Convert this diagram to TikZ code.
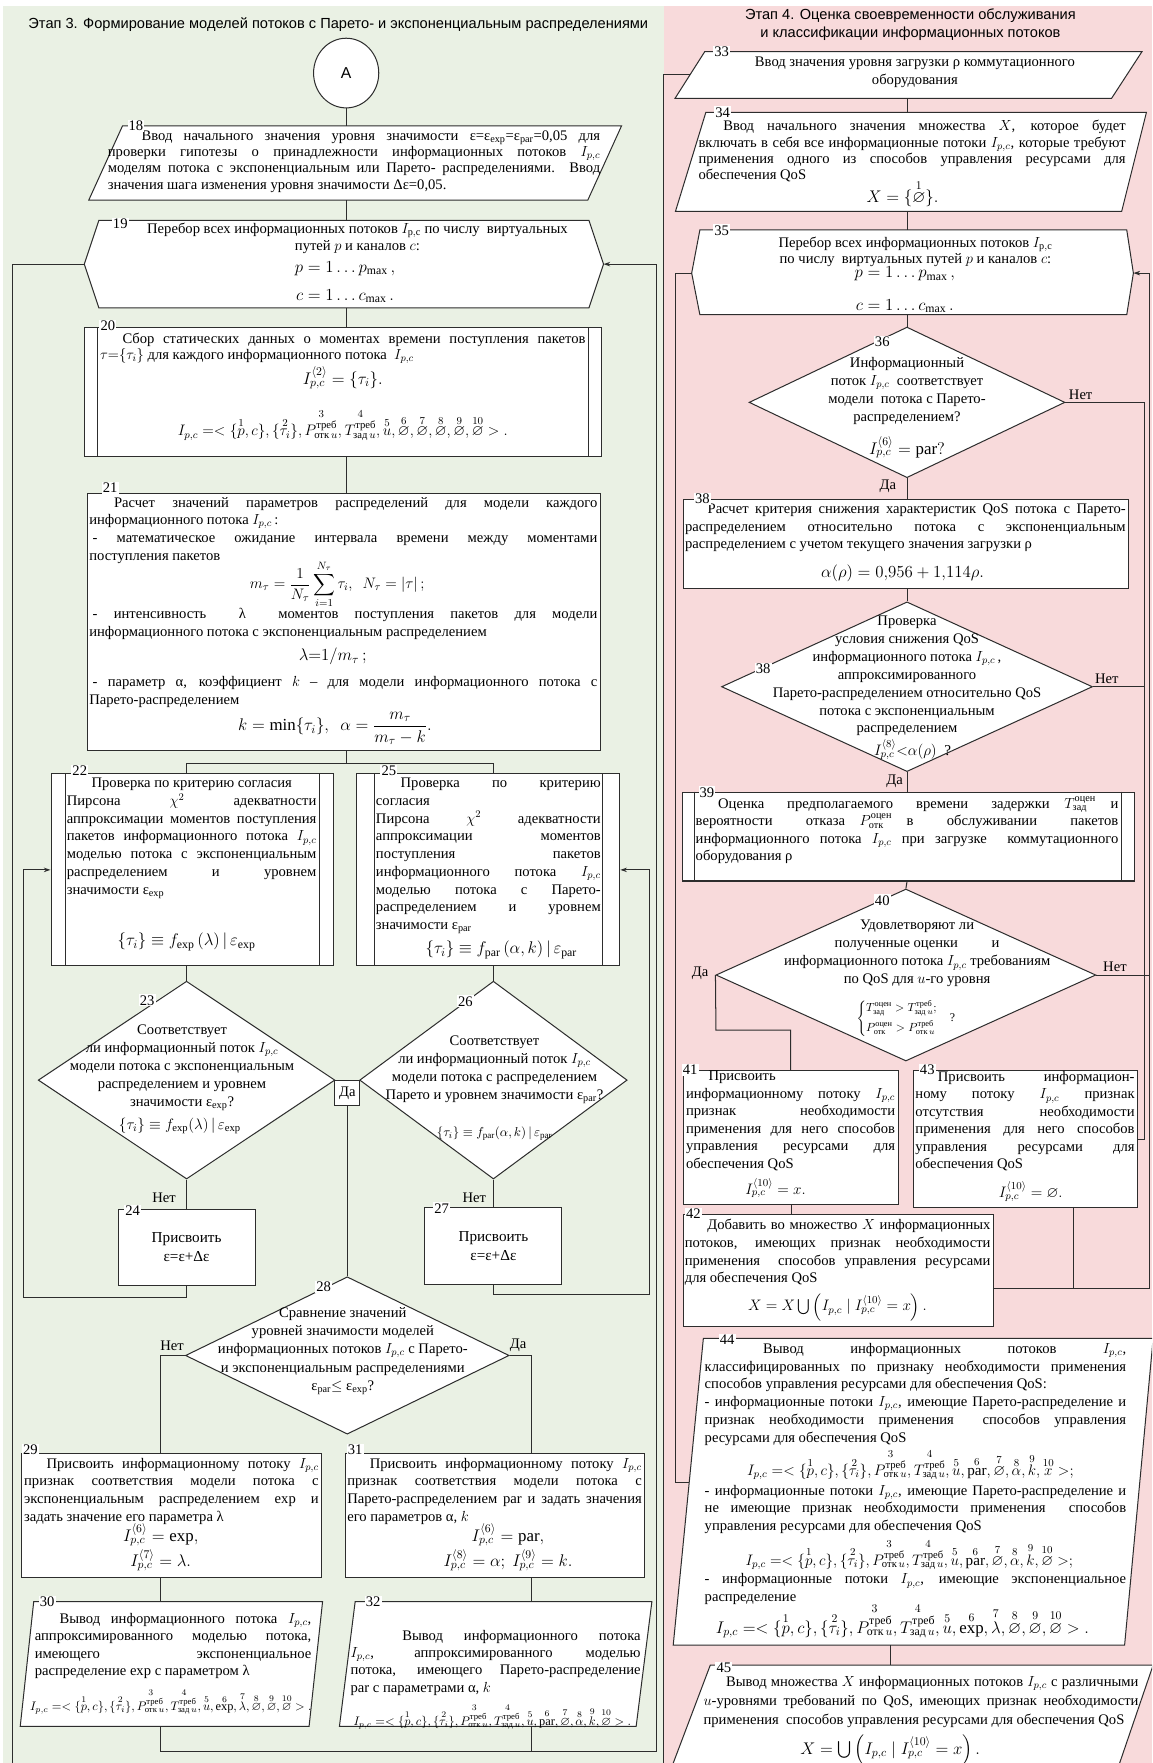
\documentclass[tikz,border=0pt]{standalone}
\usepackage{fix-cm}
\usepackage{amsmath}
\usepackage{amssymb}
\usepackage{fontspec}
\setmainfont{Liberation Serif}
\newfontfamily\headfont{Liberation Sans}
\usepackage{tikz}
\usetikzlibrary{arrows.meta, positioning, calc, shapes.geometric}
\definecolor{bggreen}{RGB}{234,241,228}
\definecolor{bgpink}{RGB}{248,218,219}
\definecolor{linecol}{RGB}{45,45,45}
\tikzset{>=Stealth}
\setlength{\parindent}{0pt}
\tolerance=9999
\hbadness=10000
\hfuzz=30pt

\newcommand{\fs}{\fontsize{13}{15.8}\selectfont}
\newcommand{\Ipc}{\ensuremath{I_{p,c}}}
\newcommand{\tpl}[1]{I_{p,c} =<\{\overset{1}{p},c\},\{\overset{2}{\tau_i}\},\overset{3}{P^{\text{треб}}_{\text{отк}\,u}},\overset{4}{T^{\text{треб}}_{\text{зад}\,u}},\overset{5}{u},#1>}

\begin{document}
\begin{tikzpicture}[x=1pt, y=-1pt,
  blk/.style={draw=linecol, fill=white, line width=0.9pt, inner sep=0pt},
  dia/.style={diamond, draw=linecol, fill=white, line width=0.9pt, inner sep=0pt},
  con/.style={draw=linecol, line width=0.9pt},
  arr/.style={con, -{Stealth[length=6pt, width=4pt]}},
  txt/.style={inner sep=0pt, font=\fs, align=justify},
  ctxt/.style={inner sep=0pt, font=\fs, align=center},
  bskip/.style={font={\fontsize{13}{#1}\selectfont}},
  frm/.style={inner sep=0pt, align=center, font=\fontsize{15}{18}\selectfont},
  mfrm/.style={inner sep=0pt, align=center, font=\fontsize{13.5}{16}\selectfont},
  sfrm/.style={inner sep=0pt, align=center, font=\fontsize{10.5}{12}\selectfont},
  num/.style={fill=white, inner sep=1pt, font=\fs},
  lbl/.style={inner sep=1pt, font=\fs},
  head/.style={font=\headfont\fontsize{13}{15.5}\selectfont, align=center},
]

% Rahmen und Hintergrund
\useasboundingbox (0,0) rectangle (1025,1568.6);
\clip (0,0) rectangle (1025,1568.6);
\fill[white] (0,0) rectangle (1025,1568.6);
\fill[bggreen] (3,5) rectangle (591,1568.6);
\fill[bgpink] (591,5) rectangle (1025,1568.6);

% Ueberschriften der Etappen
\node[head] (ttl3) at (301,22) {Этап 3. Формирование моделей потоков с Парето- и экспоненциальным распределениями};
\node[head] (ttl4) at (810,22) {Этап 4. Оценка своевременности обслуживания\\и классификации информационных потоков};

% ===== Etappe 3 =====

% Anschluss A
\node[blk, ellipse, minimum width=58pt, minimum height=62pt, font=\headfont\fontsize{14}{16}\selectfont] (A) at (308,65) {A};

% 18: Eingabe
\draw[blk] (109,112) -- (553,112) -- (523,178) -- (79,178) -- cycle;
\coordinate (b18n) at (308,112);
\coordinate (b18s) at (308,178);
\node[txt, bskip=14.5, text width=438pt, anchor=north] (t18) at (315,116) {\hspace*{30pt}Ввод начального значения уровня значимости ε=ε\textsubscript{exp}=ε\textsubscript{par}=0,05 для\linebreak проверки гипотезы о принадлежности информационных потоков \Ipc\linebreak моделям потока с экспоненциальным или Парето- распределениями. Ввод\linebreak значения шага изменения уровня значимости Δε=0,05.};

% 19: Schleife
\draw[blk] (88,196) -- (524,196) -- (537,235) -- (524,274) -- (88,274) -- (75,235) -- cycle;
\coordinate (b19n) at (308,196);
\coordinate (b19s) at (308,274);
\coordinate (b19w) at (75,235);
\coordinate (b19e) at (537,235);
\node[ctxt, anchor=north] (t19) at (318,198) {Перебор всех информационных потоков $I_{\mathrm{p,c}}$ по числу\ \ виртуальных\\путей $p$ и каналов $c$:};
\node[frm] (f19) at (307,251) {$p=1\ldots p_{\max}\,,$\\[7pt]$c=1\ldots c_{\max}\,.$};

% 20
\node[blk, minimum width=460pt, minimum height=115pt, anchor=north west] (b20) at (75,291) {};
\draw[con] ([xshift=12pt]b20.north west) -- ([xshift=12pt]b20.south west);
\draw[con] ([xshift=-12pt]b20.north east) -- ([xshift=-12pt]b20.south east);
\node[txt, bskip=13.5, text width=432pt, anchor=north] (t20) at (305,296.5) {\hspace*{20pt}Сбор статических данных о моментах времени поступления пакетов\linebreak $\tau{=}\{\tau_i\}$ для каждого информационного потока\ \ \Ipc};
\node[frm] (f20a) at (305,336) {$I^{\langle 2\rangle}_{p,c}=\{\tau_i\}.$};
\node[mfrm] (f20b) at (305,378) {$\tpl{\overset{6}{\varnothing},\overset{7}{\varnothing},\overset{8}{\varnothing},\overset{9}{\varnothing},\overset{10}{\varnothing}}.$};

% 21
\node[blk, minimum width=457pt, minimum height=228pt, anchor=north west] (b21) at (77,439) {};
\node[txt, text width=452pt, anchor=north] (t21a) at (305.5,442) {\hspace*{22pt}Расчет значений параметров распределений для модели каждого\linebreak информационного потока \Ipc\,:\par\hspace*{3pt}- математическое ожидание интервала времени между моментами\linebreak поступления пакетов};
\node[mfrm] (f21a) at (300,520) {$m_\tau=\dfrac{1}{N_\tau}\displaystyle\sum_{i=1}^{N_\tau}\tau_i,\ \ N_\tau=\left|\tau\right|;$};
\node[txt, text width=452pt, anchor=north] (t21b) at (305.5,541) {\hspace*{3pt}- интенсивность\ \ λ\ \ моментов поступления пакетов для модели\linebreak информационного потока с экспоненциальным распределением};
\node[frm] (f21b) at (296,584) {$\lambda{=}1/m_\tau\,;$};
\node[txt, text width=452pt, anchor=north] (t21c) at (305.5,602) {\hspace*{3pt}- параметр α, коэффициент $k$ – для модели информационного потока с\linebreak Парето-распределением};
\node[frm] (f21c) at (298,648) {$k=\min\{\tau_i\},\ \ \alpha=\dfrac{m_\tau}{m_\tau-k}.$};

% 22
\node[blk, minimum width=251pt, minimum height=171pt, anchor=north west] (b22) at (45,688) {};
\draw[con] ([xshift=13pt]b22.north west) -- ([xshift=13pt]b22.south west);
\draw[con] ([xshift=-13pt]b22.north east) -- ([xshift=-13pt]b22.south east);
\node[txt, text width=222pt, anchor=north] (t22) at (170.5,692) {\hspace*{22pt}Проверка по критерию согласия\par Пирсона $\chi^2$ адекватности\linebreak аппроксимации моментов поступления\linebreak пакетов информационного потока \Ipc\linebreak моделью потока с экспоненциальным\linebreak распределением и уровнем\linebreak значимости ε\textsubscript{exp}};
\node[frm] (f22) at (166,838) {$\{\tau_i\}\equiv f_{\exp}\left(\lambda\right)|\,\varepsilon_{\exp}$};

% 25
\node[blk, minimum width=234pt, minimum height=171pt, anchor=north west] (b25) at (317,688) {};
\draw[con] ([xshift=16pt]b25.north west) -- ([xshift=16pt]b25.south west);
\draw[con] ([xshift=-16pt]b25.north east) -- ([xshift=-16pt]b25.south east);
\node[txt, text width=200pt, anchor=north] (t25) at (434.5,692) {\hspace*{22pt}Проверка по критерию\linebreak согласия\par Пирсона $\chi^2$ адекватности\linebreak аппроксимации моментов\linebreak поступления пакетов\linebreak информационного потока \Ipc\linebreak моделью потока с Парето-\linebreak распределением и уровнем\linebreak значимости ε\textsubscript{par}};
\node[frm] (f25) at (446,845) {$\{\tau_i\}\equiv f_{\text{par}}\left(\alpha,k\right)|\,\varepsilon_{\text{par}}$};

% 23 und 26: Entscheidungen
\node[dia, minimum width=264pt, minimum height=176pt] (d23) at (166,961) {};
\node[ctxt, bskip=16] (t23) at (162,950) {Соответствует\\ли информационный поток \Ipc\\модели потока с экспоненциальным\\распределением и уровнем\\значимости ε\textsubscript{exp}?};
\node[mfrm] (f23) at (160,1002) {$\{\tau_i\}\equiv f_{\exp}(\lambda)\,|\,\varepsilon_{\exp}$};
\node[dia, minimum width=238pt, minimum height=176pt] (d26) at (439,961) {};
\node[ctxt, bskip=16] (t26) at (440,952) {Соответствует\\ли информационный поток \Ipc\\модели потока с распределением\\Парето и уровнем значимости ε\textsubscript{par}?};
\node[sfrm, font=\fontsize{11.5}{13}\selectfont] (f26) at (440,1009) {$\{\tau_i\}\equiv f_{\text{par}}(\alpha,k)\,|\,\varepsilon_{\text{par}}$};

% 24 und 27
\node[blk, minimum width=122pt, minimum height=67pt, anchor=north, align=center, font=\fontsize{13.5}{17}\selectfont] (b24) at (166,1076) {Присвоить\\ε=ε+Δε};
\node[blk, minimum width=122pt, minimum height=68pt, anchor=north, align=center, font=\fontsize{13.5}{17}\selectfont] (b27) at (439,1074) {Присвоить\\ε=ε+Δε};

% 28
\node[dia, minimum width=288pt, minimum height=140pt] (d28) at (309,1206) {};
\node[ctxt, bskip=16.2] (t28) at (305,1202) {Сравнение значений\\уровней значимости моделей\\информационных потоков \Ipc{} с Парето-\\и экспоненциальным распределениями\\ε\textsubscript{par}$\leq$ ε\textsubscript{exp}?};

% 29 und 31
\node[blk, minimum width=267pt, minimum height=110pt, anchor=north west] (b29) at (19,1293) {};
\node[txt, text width=262pt, anchor=north] (t29) at (152.5,1297) {\hspace*{20pt}Присвоить информационному потоку \Ipc\linebreak признак соответствия модели потока с\linebreak экспоненциальным распределением exp и\linebreak задать значение его параметра λ};
\node[frm] (f29) at (143,1377) {$I^{\langle 6\rangle}_{p,c}=\text{exp},$\\[2pt]$I^{\langle 7\rangle}_{p,c}=\lambda.$};
\node[blk, minimum width=266pt, minimum height=110pt, anchor=north west] (b31) at (307,1293) {};
\node[txt, text width=262pt, anchor=north] (t31) at (440,1297) {\hspace*{20pt}Присвоить информационному потоку \Ipc\linebreak признак соответствия модели потока с\linebreak Парето-распределением par и задать значения\linebreak его параметров α, $k$};
\node[frm] (f31) at (452,1377) {$I^{\langle 6\rangle}_{p,c}=\text{par},$\\[2pt]$I^{\langle 8\rangle}_{p,c}=\alpha;\ I^{\langle 9\rangle}_{p,c}=k.$};

% 30 und 32: Ausgabe
\draw[blk] (30,1425) -- (287,1425) -- (275,1536) -- (18,1536) -- cycle;
\coordinate (b30n) at (143,1425);
\coordinate (b30s) at (143,1536);
\node[txt, bskip=15.5, text width=246pt, anchor=north] (t30) at (154,1435) {\hspace*{22pt}Вывод информационного потока \Ipc,\linebreak аппроксимированного моделью потока,\linebreak имеющего экспоненциальное\linebreak распределение exp с параметром λ};
\node[sfrm, font=\fontsize{11}{13}\selectfont] (f30) at (152,1514) {$\tpl{\overset{6}{\text{exp}},\overset{7}{\lambda},\overset{8}{\varnothing},\overset{9}{\varnothing},\overset{10}{\varnothing}}.$};
\draw[blk] (316,1425) -- (580,1425) -- (566,1536) -- (302,1536) -- cycle;
\coordinate (b32n) at (473,1425);
\coordinate (b32s) at (473,1536);
\node[txt, bskip=15.5, text width=258pt, anchor=north] (t32) at (441,1450) {\hspace*{46pt}Вывод информационного потока\linebreak \Ipc, аппроксимированного моделью\linebreak потока, имеющего Парето-распределение\linebreak par с параметрами α, $k$};
\node[sfrm, font=\fontsize{11}{13}\selectfont] (f32) at (438,1527) {$\tpl{\overset{6}{\text{par}},\overset{7}{\varnothing},\overset{8}{\alpha},\overset{9}{k},\overset{10}{\varnothing}}.$};

% Verbindungen Etappe 3
\coordinate (j21) at (308,679);
\coordinate (x22) at (166,688);
\coordinate (x25) at (439,688);
\coordinate (c29) at (143,1293);
\coordinate (c31) at (473,1293);
\draw[con] (A.south) -- (b18n);
\draw[con] (b18s) -- (b19n);
\draw[con] (b19s) -- (b19s |- b20.north);
\draw[con] (b19s |- b20.south) -- (b19s |- b21.north);
\draw[con] (b19s |- b21.south) -- (j21);
\draw[con] (x22) |- (j21) -| (x25);
\draw[con] (x22 |- b22.south) -- (d23.north);
\draw[con] (x25 |- b25.south) -- (d26.north);
\draw[con] (d23.east) -- (d26.west);
\node[blk, minimum width=22pt, minimum height=22pt, anchor=north, font=\fs] (yes1) at (309,961) {Да};
\draw[con] (yes1.south) -- (d28.north);
\draw[con] (d23.south) -- (b24.north);
\draw[con] (d26.south) -- (b27.north);
\draw[arr] (b24.south) -- (166,1154) -- (21,1154) |- (b22.west);
\draw[arr] (b27.south) -- (439,1152) -- (578,1152) |- (b25.east);
\draw[con] (d28.west) -| (c29);
\draw[con] (d28.east) -| (c31);
\draw[con] (c29 |- b29.south) -- (b30n);
\draw[con] (c31 |- b31.south) -- (b32n);
\draw[arr] (b30s) -- (143,1558) -- (584,1558) |- (b19e);
\draw[con] (b32s) -- (473,1558);
\draw[con] (b19w) -- (11,235) -- (11,1575);

% Beschriftungen Ja/Nein
\node[lbl] (no23) at (146,1066) {Нет};
\node[lbl] (no26) at (422,1066) {Нет};
\node[lbl] (no28) at (153,1197) {Нет};
\node[lbl] (yes28) at (461,1197) {Да};

% Nummern der Bloecke
\node[num] (n18) at (121,112) {18};
\node[num] (n19) at (107,199) {19};
\node[num] (n20) at (96,290) {20};
\node[num] (n21) at (98,434) {21};
\node[num] (n22) at (71,686) {22};
\node[num] (n25) at (346,686) {25};
\node[num] (n23) at (131,890) {23};
\node[num] (n26) at (414,891) {26};
\node[num] (n24) at (118,1077) {24};
\node[num] (n27) at (393,1075) {27};
\node[num] (n28) at (288,1145) {28};
\node[num] (n29) at (27,1290) {29};
\node[num] (n31) at (316,1290) {31};
\node[num] (n30) at (42,1425) {30};
\node[num] (n32) at (332,1425) {32};

% ===== Etappe 4 =====

% 33
\draw[blk] (627,46) -- (1016,46) -- (989,87.5) -- (600.6,87.5) -- cycle;
\coordinate (b33w) at (614,66);
\coordinate (b33s) at (807,87.5);
\node[ctxt, bskip=16] (t33) at (814,64) {Ввод значения уровня загрузки ρ коммутационного\\оборудования};

% 34
\draw[blk] (628,100) -- (1020,100) -- (998,188) -- (601,188) -- cycle;
\coordinate (b34n) at (807,100);
\coordinate (b34s) at (807,188);
\node[txt, bskip=14.5, text width=380pt, anchor=north] (t34) at (811.5,107) {\hspace*{22pt}Ввод начального значения множества $X$, которое будет\linebreak включать в себя все информационные потоки \Ipc, которые требуют\linebreak применения одного из способов управления ресурсами для\linebreak обеспечения QoS};
\node[frm] (f34) at (803,172) {$X=\{\overset{1}{\varnothing}\}.$};

% 35: Schleife
\draw[blk] (622.7,204.6) -- (1002.5,204.6) -- (1008.4,243) -- (1002.5,280) -- (622.7,280) -- (615.4,243) -- cycle;
\coordinate (b35n) at (807,204.6);
\coordinate (b35s) at (807,280);
\coordinate (b35w) at (615.4,243);
\coordinate (b35e) at (1008.4,243);
\node[ctxt, bskip=14.5] (t35) at (814.5,224) {Перебор всех информационных потоков $I_{\mathrm{p,c}}$\\по числу\ \ виртуальных путей $p$ и каналов $c$:};
\node[frm] (f35) at (805,258) {$p=1\ldots p_{\max}\,,$\\[11pt]$c=1\ldots c_{\max}\,.$};

% 36
\node[dia, minimum width=281pt, minimum height=134pt] (d36) at (807,358) {};
\node[ctxt, bskip=16] (t36) at (807,347.5) {Информационный\\поток \Ipc\ \ соответствует\\модели\ \ потока с Парето-\\распределением?};
\node[frm] (f36) at (807,398) {$I^{\langle 6\rangle}_{p,c}=\text{par}?$};

% 38: Berechnung
\node[blk, minimum width=396.5pt, minimum height=79.5pt, anchor=north west] (b38) at (607.4,444) {};
\node[txt, text width=392pt, anchor=north] (t38) at (805.6,448) {\hspace*{20pt}Расчет критерия снижения характеристик QoS потока с Парето-\linebreak распределением относительно потока с экспоненциальным\linebreak распределением с учетом текущего значения загрузки ρ};
\node[frm] (f38) at (803,510) {$\alpha(\rho)=0{,}956+1{,}114\rho.$};

% 38: Pruefung
\node[dia, minimum width=330pt, minimum height=151pt] (d38) at (807,611) {};
\node[ctxt, bskip=15.9] (t38b) at (807,601.5) {Проверка\\условия снижения QoS\\информационного потока \Ipc\,,\\аппроксимированного\\Парето-распределением относительно QoS\\потока с экспоненциальным\\распределением};
\node[mfrm] (f38b) at (812,667) {$I^{\langle 8\rangle}_{p,c}{<}\alpha(\rho)$\ \ ?};

% 39
\node[blk, minimum width=402pt, minimum height=79pt, anchor=north west] (b39) at (606.5,704.4) {};
\draw[con] ([xshift=11.3pt]b39.north west) -- ([xshift=11.3pt]b39.south west);
\draw[con] ([xshift=-11.9pt]b39.north east) -- ([xshift=-11.9pt]b39.south east);
\node[txt, bskip=15.6, text width=376pt, anchor=north] (t39) at (807,708.5) {\hspace*{20pt}Оценка предполагаемого времени задержки\quad $T^{\text{оцен}}_{\text{зад}}$\quad и\linebreak вероятности отказа\quad $P^{\text{оцен}}_{\text{отк}}$\quad в обслуживании пакетов\linebreak информационного потока \Ipc{} при загрузке\ \ коммутационного\linebreak оборудования ρ};

% 40
\node[dia, minimum width=338pt, minimum height=153pt] (d40) at (806,867.5) {};
\node[ctxt, bskip=16] (t40) at (816,848.5) {Удовлетворяют ли\\полученные оценки\hspace{30pt}и\\информационного потока \Ipc{} требованиям\\по QoS для $u$-го уровня};
\node[sfrm] (f40) at (806,906) {$\left\{\begin{aligned}&T^{\text{оцен}}_{\text{зад}}>T^{\text{треб}}_{\text{зад}\,u};\\&P^{\text{оцен}}_{\text{отк}}>P^{\text{треб}}_{\text{отк}\,u}\end{aligned}\right.$\quad ?};

% 41 und 43
\node[blk, minimum width=192pt, minimum height=119pt, anchor=north west] (b41) at (607.4,952) {};
\node[txt, bskip=15.5, text width=186pt, anchor=north] (t41) at (703.4,953) {\hspace*{20pt}Присвоить\par информационному потоку \Ipc\linebreak признак необходимости\linebreak применения для него способов\linebreak управления ресурсами для\linebreak обеспечения QoS};
\node[mfrm] (f41) at (690,1057) {$I^{\langle 10\rangle}_{p,c}=x.$};
\node[blk, minimum width=199pt, minimum height=122pt, anchor=north west] (b43) at (812.6,952) {};
\node[txt, bskip=15.5, text width=195pt, anchor=north] (t43) at (912,953) {\hspace*{20pt}Присвоить информацион-\linebreak ному потоку \Ipc{} признак\linebreak отсутствия необходимости\linebreak применения для него способов\linebreak управления ресурсами для\linebreak обеспечения QoS};
\node[mfrm] (f43) at (917,1060) {$I^{\langle 10\rangle}_{p,c}=\varnothing.$};

% 42
\node[blk, minimum width=276pt, minimum height=100pt, anchor=north west] (b42) at (607.4,1080) {};
\node[txt, text width=272pt, anchor=north] (t42) at (745.3,1084.5) {\hspace*{20pt}Добавить во множество $X$ информационных\linebreak потоков, имеющих признак необходимости\linebreak применения\ \ способов управления ресурсами\linebreak для обеспечения QoS};
\node[mfrm] (f42) at (745,1163) {$X=X\bigcup\left(I_{p,c}\mid I^{\langle 10\rangle}_{p,c}=x\right).$};

% 44: Ausgabe
\draw[blk] (625.8,1190.8) -- (1026,1190.8) -- (1000.6,1463.6) -- (599,1463.6) -- cycle;
\coordinate (b44w) at (613.2,1319);
\coordinate (b44s) at (792.7,1463.6);
\node[txt, text width=375pt, anchor=north] (t44a) at (814.5,1195) {\hspace*{52pt}Вывод информационных потоков \Ipc,\linebreak классифицированных по признаку необходимости применения\linebreak способов управления ресурсами для обеспечения QoS:\par - информационные потоки \Ipc, имеющие Парето-распределение и\linebreak признак необходимости применения\ \ способов управления\linebreak ресурсами для обеспечения QoS};
\node[mfrm] (f44a) at (810,1303) {$\tpl{\overset{6}{\text{par}},\overset{7}{\varnothing},\overset{8}{\alpha},\overset{9}{k},\overset{10}{x}};$};
\node[txt, text width=375pt, anchor=north] (t44b) at (814.5,1321) {- информационные потоки \Ipc, имеющие Парето-распределение и\linebreak не имеющие признак необходимости применения\ \ способов\linebreak управления ресурсами для обеспечения QoS};
\node[mfrm] (f44b) at (809,1383) {$\tpl{\overset{6}{\text{par}},\overset{7}{\varnothing},\overset{8}{\alpha},\overset{9}{k},\overset{10}{\varnothing}};$};
\node[txt, text width=375pt, anchor=north] (t44c) at (814.5,1400) {- информационные потоки \Ipc, имеющие экспоненциальное\linebreak распределение};
\node[frm] (f44c) at (803,1442) {$\tpl{\overset{6}{\text{exp}},\overset{7}{\lambda},\overset{8}{\varnothing},\overset{9}{\varnothing},\overset{10}{\varnothing}}.$};

% 45: Ausgabe der Menge X
\draw[blk] (632,1481.4) -- (1026,1481.4) -- (994,1575) -- (596.6,1575) -- cycle;
\coordinate (b45n) at (792.7,1481.4);
\node[txt, bskip=17, text width=387pt, anchor=north] (t45) at (819.5,1491) {\hspace*{20pt}Вывод множества $X$ информационных потоков \Ipc{} с различными\linebreak $u$-уровнями требований по QoS, имеющих признак необходимости\linebreak применения\ \ способов управления ресурсами для обеспечения QoS};
\node[frm] (f45) at (792,1557) {$X=\bigcup\left(I_{p,c}\mid I^{\langle 10\rangle}_{p,c}=x\right).$};

% Verbindungen Etappe 4
\coordinate (rin) at (1018,0);
\coordinate (rout) at (1023,0);
\coordinate (j42) at (883.3,1146);
\coordinate (c41) at (703.4,952);
\draw[con] (590,1575) -- (590,66) -- (b33w);
\draw[con] (b33s) -- (b34n);
\draw[con] (b34s) -- (b35n);
\draw[con] (b35s) -- (d36.north);
\draw[con] (b35w) -- (600.6,243) |- (b44w);
\draw[con] (d36.east) -- (d36.east -| rin) |- (b43.east);
\draw[con] (d36.south) -- (d36.south |- b38.north);
\draw[con] (d36.south |- b38.south) -- (d38.north);
\draw[con] (d38.east) -- (d38.east -| rin);
\draw[con] (d38.south) -- (d38.south |- b39.north);
\draw[con] (d38.south |- b39.south) -- (d40.north);
\draw[con] (d40.west) -- (637,916.5) -| (c41);
\draw[con] (d40.east) -- (d40.east -| rout);
\draw[con] (b41.south) -- (b41.south |- b42.north);
\draw[con] (955,1073.7) -- (955,1146);
\draw[arr] (j42) -- (j42 -| rout) |- (b35e);
\draw[con] (b44s) -- (b45n);

% Beschriftungen Ja/Nein
\node[lbl] (no36) at (961.5,351) {Нет};
\node[lbl] (yes36) at (790,433) {Да};
\node[lbl] (no38) at (984.7,603.5) {Нет};
\node[lbl] (yes38) at (796,695.5) {Да};
\node[lbl] (yes40) at (623,866) {Да};
\node[lbl] (no40) at (992,860) {Нет};

% Nummern der Bloecke
\node[num] (n33) at (642,46) {33};
\node[num] (n34) at (643,100) {34};
\node[num] (n35) at (642,205) {35};
\node[num] (n36) at (785,304) {36};
\node[num] (n38a) at (625,444) {38};
\node[num] (n38b) at (679,595) {38};
\node[num] (n39) at (629,705) {39};
\node[num] (n40) at (785,801) {40};
\node[num] (n41) at (614,952) {41};
\node[num] (n43) at (825,952) {43};
\node[num] (n42) at (617,1080) {42};
\node[num] (n44) at (647,1192) {44};
\node[num] (n45) at (644,1484) {45};

\end{tikzpicture}
\end{document}
